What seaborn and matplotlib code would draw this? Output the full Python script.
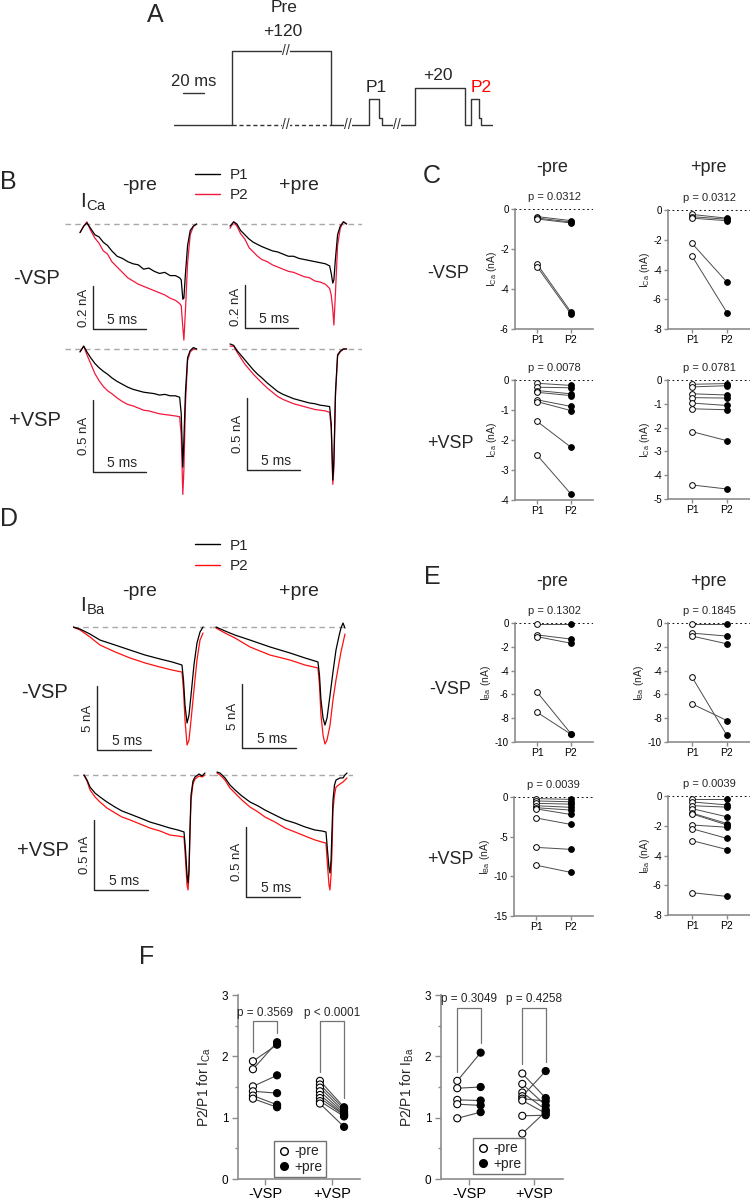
import numpy as np
import pandas as pd
import matplotlib
matplotlib.use('Agg')
import matplotlib.pyplot as plt
from matplotlib.lines import Line2D
import seaborn as sns

##### Voltage protocol (schematic, ms / mV)
proto_edges = [0, 55, 150, 186, 195, 198, 230, 277, 283, 291, 293, 304]
proto_level = [-80, 120, -80, -10, -60, -80, 20, -80, -10, -60, -80]

##### Panel B: ICa traces (ms, nA)
t_ca = [0, 0.35, 0.65, 1.0, 1.4, 1.8, 2.2, 2.6, 3.0, 3.5, 4.0, 4.5, 5.0, 5.5, 6.0,
        6.5, 7.0, 7.5, 8.0, 8.5, 9.0, 9.4, 9.55, 9.7, 9.8, 9.95, 10.15, 10.4, 10.7, 11.0]
tr_ca_ctrl_nopre_p1 = [-0.04, -0.01, 0.005, -0.02, -0.05, -0.06, -0.085, -0.10, -0.125, -0.15,
                       -0.16, -0.175, -0.185, -0.19, -0.21, -0.205, -0.22, -0.23, -0.225, -0.24,
                       -0.24, -0.25, -0.26, -0.35, -0.345, -0.23, -0.10, -0.03, -0.01, 0.0]
tr_ca_ctrl_nopre_p2 = [-0.04, -0.01, 0.01, -0.03, -0.065, -0.09, -0.125, -0.14, -0.175, -0.2,
                       -0.225, -0.25, -0.265, -0.28, -0.29, -0.3, -0.31, -0.32, -0.33, -0.345,
                       -0.355, -0.37, -0.38, -0.48, -0.54, -0.40, -0.18, -0.05, -0.01, 0.0]
tr_ca_ctrl_pre_p1 = [-0.01, 0.01, 0.0, -0.03, -0.05, -0.07, -0.085, -0.095, -0.105, -0.115,
                     -0.125, -0.13, -0.14, -0.15, -0.15, -0.16, -0.165, -0.17, -0.175, -0.18,
                     -0.185, -0.195, -0.23, -0.275, -0.26, -0.16, -0.05, -0.01, 0.01, 0.0]
tr_ca_ctrl_pre_p2 = [-0.02, 0.01, -0.01, -0.045, -0.07, -0.11, -0.13, -0.15, -0.165, -0.175,
                     -0.19, -0.2, -0.21, -0.22, -0.225, -0.235, -0.245, -0.25, -0.265, -0.27,
                     -0.28, -0.30, -0.33, -0.40, -0.47, -0.32, -0.10, -0.02, 0.01, 0.0]
tr_ca_vsp_nopre_p1 = [-0.02, 0.02, -0.02, -0.06, -0.10, -0.13, -0.155, -0.175, -0.2, -0.225,
                      -0.245, -0.265, -0.28, -0.29, -0.30, -0.305, -0.31, -0.32, -0.315, -0.325,
                      -0.325, -0.335, -0.45, -0.82, -0.63, -0.30, -0.06, -0.01, 0.01, 0.0]
tr_ca_vsp_nopre_p2 = [-0.02, 0.02, -0.04, -0.10, -0.17, -0.22, -0.26, -0.29, -0.31, -0.34,
                      -0.365, -0.385, -0.395, -0.41, -0.425, -0.43, -0.44, -0.45, -0.455, -0.46,
                      -0.465, -0.47, -0.60, -1.01, -0.84, -0.38, -0.08, -0.02, 0.0, 0.0]
tr_ca_vsp_pre_p1 = [0.035, 0.025, -0.01, -0.04, -0.075, -0.11, -0.145, -0.175, -0.2, -0.235,
                    -0.265, -0.295, -0.315, -0.33, -0.345, -0.355, -0.365, -0.375, -0.38, -0.39,
                    -0.395, -0.40, -0.52, -0.91, -0.77, -0.30, -0.04, -0.015, 0.0, 0.0]
tr_ca_vsp_pre_p2 = [0.02, 0.02, -0.02, -0.06, -0.105, -0.14, -0.175, -0.205, -0.235, -0.27,
                    -0.30, -0.33, -0.35, -0.365, -0.38, -0.39, -0.40, -0.41, -0.42, -0.425,
                    -0.43, -0.44, -0.55, -0.94, -0.83, -0.33, -0.05, -0.02, 0.0, 0.0]

##### Panel D: IBa traces (ms, nA)
t_ba_ctrl_nopre = [0, 0.65, 1.57, 2.5, 3.9, 5.28, 6.67, 8.06, 9.17, 10.09, 10.23, 10.37,
                   10.56, 10.74, 10.93, 11.2, 11.48, 11.76, 12.04]
tr_ba_ctrl_nopre_p1 = [0, -0.16, -0.55, -1.02, -1.41, -1.8, -2.19, -2.5, -2.73, -2.97, -4.14,
                       -6.1, -7.5, -6.88, -5.31, -2.97, -1.25, -0.39, 0]
tr_ba_ctrl_nopre_p2 = [0, -0.23, -0.78, -1.41, -1.95, -2.42, -2.81, -3.13, -3.36, -3.52, -4.92,
                       -7.27, -9.22, -8.83, -7.27, -4.92, -2.58, -1.02, -0.47]
t_ba_ctrl_pre = [0, 0.83, 1.76, 3.15, 5.0, 6.85, 8.24, 9.44, 9.58, 9.72, 9.91, 10.09, 10.28,
                 10.56, 10.83, 11.11, 11.39, 11.57, 11.76, 11.94]
tr_ba_ctrl_pre_p1 = [0, -0.31, -0.63, -1.02, -1.56, -2.03, -2.42, -2.73, -3.75, -5.7, -7.11,
                     -7.66, -7.11, -5.31, -3.52, -1.8, -0.7, -0.08, 0.31, -0.08]
tr_ba_ctrl_pre_p2 = [-0.08, -0.47, -0.86, -1.56, -2.19, -2.58, -2.97, -3.2, -4.53, -6.88, -8.44,
                     -9.14, -8.83, -7.66, -5.70, -4.14, -2.81, -1.95, -1.25, -0.55]
t_ba_vsp_nopre = [0, 0.28, 0.56, 1.02, 1.48, 2.13, 2.87, 3.52, 4.26, 5.19, 6.11, 7.04, 7.96,
                  8.7, 9.26, 9.4, 9.54, 9.63, 9.72, 9.81, 9.91, 10.09, 10.28, 10.65, 10.93, 11.2]
tr_ba_vsp_nopre_p1 = [0, -0.036, -0.086, -0.129, -0.157, -0.193, -0.229, -0.257, -0.279, -0.307,
                      -0.336, -0.357, -0.379, -0.393, -0.407, -0.536, -0.714, -0.771, -0.679,
                      -0.393, -0.143, -0.043, -0.014, 0.007, -0.007, 0.014]
tr_ba_vsp_nopre_p2 = [0, -0.043, -0.107, -0.157, -0.193, -0.236, -0.271, -0.3, -0.321, -0.35,
                      -0.379, -0.4, -0.429, -0.436, -0.443, -0.607, -0.786, -0.821, -0.714,
                      -0.429, -0.179, -0.064, -0.029, -0.007, -0.014, 0]
t_ba_vsp_pre = [0, 0.28, 0.74, 1.2, 1.67, 2.31, 3.06, 3.8, 4.44, 5.37, 6.3, 7.22, 8.15, 9.07,
                9.72, 10.09, 10.23, 10.37, 10.46, 10.56, 10.65, 10.74, 10.88, 11.02, 11.39,
                11.67, 11.85, 12.04]
tr_ba_vsp_pre_p1 = [0.021, 0.014, -0.021, -0.071, -0.107, -0.15, -0.193, -0.221, -0.25, -0.286,
                    -0.321, -0.343, -0.371, -0.393, -0.4, -0.407, -0.536, -0.664, -0.7, -0.607,
                    -0.393, -0.179, -0.071, -0.036, -0.021, -0.021, 0, 0.014]
tr_ba_vsp_pre_p2 = [0.014, 0, -0.036, -0.093, -0.129, -0.179, -0.229, -0.264, -0.3, -0.336,
                    -0.379, -0.407, -0.436, -0.464, -0.479, -0.486, -0.643, -0.786, -0.821,
                    -0.714, -0.536, -0.25, -0.143, -0.086, -0.064, -0.05, -0.036, -0.021]

##### Panels C / E: P1 and P2 amplitudes (nA)
amp_ca_ctrl_nopre_p1 = [-0.38, -0.45, -0.50, -2.75, -2.88]
amp_ca_ctrl_nopre_p2 = [-0.58, -0.65, -0.70, -5.15, -5.25]
amp_ca_ctrl_pre_p1 = [-0.30, -0.45, -0.55, -2.25, -3.10]
amp_ca_ctrl_pre_p2 = [-0.55, -0.62, -0.72, -4.85, -6.90]
amp_ca_vsp_nopre_p1 = [-0.11, -0.24, -0.35, -0.41, -0.66, -0.72, -1.38, -2.50]
amp_ca_vsp_nopre_p2 = [-0.18, -0.26, -0.46, -0.52, -0.88, -1.02, -2.24, -3.80]
amp_ca_vsp_pre_p1 = [-0.18, -0.29, -0.58, -0.74, -0.97, -1.21, -2.17, -4.41]
amp_ca_vsp_pre_p2 = [-0.15, -0.24, -0.63, -0.76, -1.07, -1.25, -2.55, -4.58]
amp_ba_ctrl_nopre_p1 = [-0.05, -1.00, -1.15, -5.80, -7.50]
amp_ba_ctrl_nopre_p2 = [-0.05, -1.35, -1.70, -9.30, -9.35]
amp_ba_ctrl_pre_p1 = [-0.05, -0.85, -1.10, -4.55, -6.80]
amp_ba_ctrl_pre_p2 = [-0.05, -1.10, -1.75, -9.45, -8.20]
amp_ba_vsp_nopre_p1 = [-0.20, -0.50, -0.80, -1.10, -1.35, -1.50, -2.65, -6.35, -8.60]
amp_ba_vsp_nopre_p2 = [-0.30, -0.60, -0.90, -1.30, -1.65, -2.20, -3.45, -6.60, -9.50]
amp_ba_vsp_pre_p1 = [-0.20, -0.40, -0.65, -0.85, -1.15, -1.20, -1.95, -2.20, -3.00, -6.50]
amp_ba_vsp_pre_p2 = [-0.20, -0.60, -0.75, -1.40, -1.85, -1.95, -2.10, -2.85, -3.60, -6.75]
p_ca_amp = ['p = 0.0312', 'p = 0.0312', 'p = 0.0078', 'p = 0.0781']
p_ba_amp = ['p = 0.1302', 'p = 0.1845', 'p = 0.0039', 'p = 0.0039']

##### Panel F: P2/P1 ratios
ratio_ca_ctrl_nopre = [1.92, 1.79, 1.51, 1.43, 1.36, 1.31]
ratio_ca_ctrl_pre = [2.19, 2.23, 1.69, 1.40, 1.21, 1.17]
ratio_ca_vsp_nopre = [1.60, 1.54, 1.49, 1.43, 1.37, 1.32, 1.27, 1.23]
ratio_ca_vsp_pre = [1.17, 1.14, 1.10, 1.07, 1.05, 1.04, 1.02, 0.85]
ratio_ba_ctrl_nopre = [1.60, 1.48, 1.29, 1.22, 0.99]
ratio_ba_ctrl_pre = [2.06, 1.50, 1.28, 1.20, 1.09]
ratio_ba_vsp_nopre = [1.72, 1.55, 1.41, 1.35, 1.31, 1.28, 1.03, 0.74]
ratio_ba_vsp_pre = [1.32, 1.20, 1.13, 1.76, 1.27, 1.07, 1.04, 1.10]
p_ratio_ca = ['p = 0.3569', 'p < 0.0001']
p_ratio_ba = ['p = 0.3049', 'p = 0.4258']
vsp_labels = ['-VSP', '+VSP']

##### style
sns.set_theme(style='ticks')
plt.rcParams['font.family'] = ['Liberation Sans', 'DejaVu Sans']
plt.rcParams['mathtext.fontset'] = 'custom'
plt.rcParams['mathtext.rm'] = 'Liberation Sans'
plt.rcParams['axes.unicode_minus'] = False
plt.rcParams['axes.facecolor'] = 'none'

RED_B = '#f2183c'
RED_D = '#ff1010'
GREY = '#8c8c8c'

W, H = 750, 1200
fig = plt.figure(figsize=(W / 100, H / 100), dpi=100)

# overlay for labels, in pixel units
ov = fig.add_axes([0, 0, 1, 1])
ov.set_xlim(0, W)
ov.set_ylim(H, 0)
ov.axis('off')


def label(x, y, s, size, **kw):
    ov.text(x, y, s, fontsize=size, ha=kw.pop('ha', 'center'), va=kw.pop('va', 'center'), **kw)


def px_axes(x0, y0, x1, y1):
    return fig.add_axes([x0 / W, 1 - y1 / H, (x1 - x0) / W, (y1 - y0) / H])


##### A: protocol
axA = px_axes(174, 40, 493, 130)
axA.set_xlim(0, 304)
axA.set_ylim(-93.5, 149.7)
axA.axis('off')
sns.lineplot(x=proto_edges, y=proto_level + [proto_level[-1]], ax=axA, color='0.2', lw=1,
             drawstyle='steps-post', estimator=None, sort=False)
sns.lineplot(x=proto_edges[1:3], y=[proto_level[0]] * 2, ax=axA, color='0.2', lw=1,
             ls=(0, (3, 2)), estimator=None, sort=False)
for tb, vb in [(106.7, 120), (106.7, -80), (165.7, -80), (212.4, -80)]:
    axA.text(tb, vb, '//', fontsize=10, ha='center', va='center', color='0.2',
             bbox=dict(facecolor='white', edgecolor='none', pad=0.2))
axA.plot([8.6, 28.6], [6.5, 6.5], color='0.2', lw=1)
label(194, 82, '20 ms', 12)
label(155, 15, 'A', 18)
label(284, 8, 'Pre', 12.5)
label(283, 31, '+120', 12.5)
label(376, 88, 'P1', 12.5)
label(438, 76, '+20', 12.5)
label(481, 88, 'P2', 12.5, color='red')


##### trace helpers
def trace_axes(x0, x1, y0, y1, x_start, y_base, px_ms, px_unit):
    ax = px_axes(x0, y0, x1, y1)
    ax.set_xlim((x0 - x_start) / px_ms, (x1 - x_start) / px_ms)
    ax.set_ylim((y_base - y1) / px_unit, (y_base - y0) / px_unit)
    ax.axis('off')
    ax.axhline(0, color='#a8a8a8', lw=1, ls=(0, (4, 3)))
    return ax


def draw_pair(ax, t, p1, p2, red):
    sns.lineplot(x=t, y=p2, ax=ax, color=red, lw=0.9, sort=False, estimator=None)
    sns.lineplot(x=t, y=p1, ax=ax, color='black', lw=0.9, sort=False, estimator=None)


def scalebar(ax, t0, v0, dv, ylab):
    ax.plot([t0, t0, t0 + 5], [v0 + dv, v0, v0], color='0.15', lw=1, clip_on=False)
    ax.annotate('5 ms', (t0 + 2.5, v0), xytext=(2, 1.5), textcoords='offset points',
                ha='center', va='bottom', fontsize=10)
    ax.annotate(ylab, (t0, v0 + dv / 2), xytext=(-2, 0), textcoords='offset points',
                rotation=90, ha='right', va='center', fontsize=9.5)


##### B
ax = trace_axes(65, 212, 210, 345, 80, 224, 10.6, 215)
draw_pair(ax, t_ca, tr_ca_ctrl_nopre_p1, tr_ca_ctrl_nopre_p2, RED_B)
scalebar(ax, 1.23, -0.488, 0.2, '0.2 nA')
ax = trace_axes(212, 362, 210, 345, 230, 224, 10.6, 215)
draw_pair(ax, t_ca, tr_ca_ctrl_pre_p1, tr_ca_ctrl_pre_p2, RED_B)
scalebar(ax, 1.42, -0.484, 0.2, '0.2 nA')
ax = trace_axes(65, 212, 338, 500, 80, 349, 10.6, 144)
draw_pair(ax, t_ca, tr_ca_vsp_nopre_p1, tr_ca_vsp_nopre_p2, RED_B)
scalebar(ax, 1.23, -0.854, 0.5, '0.5 nA')
ax = trace_axes(212, 362, 338, 500, 230, 349, 10.6, 144)
draw_pair(ax, t_ca, tr_ca_vsp_pre_p1, tr_ca_vsp_pre_p2, RED_B)
scalebar(ax, 1.6, -0.84, 0.5, '0.5 nA')

label(8, 182, 'B', 18)
label(80, 202, r'I$_\mathregular{Ca}$', 15, ha='left')
label(140, 186, '-pre', 14)
label(299, 186, '+pre', 14)
label(37, 279, '-VSP', 14.5)
label(35, 420, '+VSP', 14.5)
fig.legend([Line2D([], [], color='black', lw=1), Line2D([], [], color=RED_B, lw=1)], ['P1', 'P2'],
           loc='center left', bbox_to_anchor=(195 / W, 1 - 185 / H), frameon=False, fontsize=11,
           handlelength=1.65, handletextpad=0.6, labelspacing=0.4, borderpad=0, borderaxespad=0)

##### D
ax = trace_axes(73, 212, 612, 760, 73, 627, 10.8, 12.8)
draw_pair(ax, t_ba_ctrl_nopre, tr_ba_ctrl_nopre_p1, tr_ba_ctrl_nopre_p2, RED_D)
scalebar(ax, 2.22, -9.61, 5, '5 nA')
ax = trace_axes(212, 347, 612, 760, 216, 627, 10.8, 12.8)
draw_pair(ax, t_ba_ctrl_pre, tr_ba_ctrl_pre_p1, tr_ba_ctrl_pre_p2, RED_D)
scalebar(ax, 2.41, -9.45, 5, '5 nA')
ax = trace_axes(73, 212, 762, 905, 84, 775, 10.8, 140)
draw_pair(ax, t_ba_vsp_nopre, tr_ba_vsp_nopre_p1, tr_ba_vsp_nopre_p2, RED_D)
scalebar(ax, 0.93, -0.82, 0.5, '0.5 nA')
ax = trace_axes(212, 353, 762, 905, 217, 775, 10.8, 140)
draw_pair(ax, t_ba_vsp_pre, tr_ba_vsp_pre_p1, tr_ba_vsp_pre_p2, RED_D)
scalebar(ax, 2.69, -0.87, 0.5, '0.5 nA')

label(9, 519, 'D', 18)
label(80, 606, r'I$_\mathregular{Ba}$', 15, ha='left')
label(140, 592, '-pre', 14)
label(299, 592, '+pre', 14)
label(45, 692, '-VSP', 14.5)
label(43, 850, '+VSP', 14.5)
fig.legend([Line2D([], [], color='black', lw=1), Line2D([], [], color=RED_D, lw=1)], ['P1', 'P2'],
           loc='center left', bbox_to_anchor=(195 / W, 1 - 556 / H), frameon=False, fontsize=11,
           handlelength=1.65, handletextpad=0.6, labelspacing=0.45, borderpad=0, borderaxespad=0)


##### C / E helpers
def style_axes(ax, labelsize):
    sns.despine(ax=ax)
    for s in ['left', 'bottom']:
        ax.spines[s].set_color(GREY)
        ax.spines[s].set_linewidth(1.2)
    ax.tick_params(which='both', color=GREY, width=1, labelcolor='black', labelsize=labelsize)


def paired_axes(box, xlim, p1, p2, ylow, ystep, ylabel, ptext):
    ax = px_axes(*box)
    n = len(p1)
    df = pd.DataFrame({'cell': list(range(n)) * 2, 'pulse': [0] * n + [1] * n,
                       'amp': list(p1) + list(p2)})
    sns.lineplot(data=df, x='pulse', y='amp', units='cell', estimator=None, color='0.3',
                 lw=0.7, ax=ax, legend=False)
    sns.scatterplot(data=df[df.pulse == 0], x='pulse', y='amp', color='white', edgecolor='black',
                    s=17, linewidth=0.7, ax=ax, zorder=3, clip_on=False, legend=False)
    sns.scatterplot(data=df[df.pulse == 1], x='pulse', y='amp', color='black', edgecolor='black',
                    s=17, linewidth=0.7, ax=ax, zorder=3, clip_on=False, legend=False)
    ax.axhline(0, color='black', lw=1.3, ls=(0, (1, 1.5)), zorder=1)
    ax.set_xlim(*xlim)
    ax.set_ylim(ylow, 0)
    ax.set_yticks(np.arange(ylow, 0.01, ystep))
    ax.set_xticks([0, 1], ['P1', 'P2'])
    ax.set_xlabel('')
    ax.set_ylabel(ylabel, fontsize=7.5, labelpad=1)
    style_axes(ax, 7)
    ax.tick_params(length=3, pad=1.5)
    ax.tick_params(axis='x', labelsize=7.5)
    ax.annotate(ptext, (0.5, 1), xycoords=('data', 'axes fraction'), xytext=(0, 8.5),
                textcoords='offset points', ha='center', va='center', fontsize=8)
    return ax


XL_L = (-0.65, 1.65)
XL_R = (-0.69, 1.66)
lab_ca = r'I$_\mathregular{Ca}$ (nA)'
lab_ba = r'I$_\mathregular{Ba}$ (nA)'

paired_axes((515, 209, 593, 329), XL_L, amp_ca_ctrl_nopre_p1, amp_ca_ctrl_nopre_p2, -6, 2, lab_ca, p_ca_amp[0])
paired_axes((668, 210, 750, 329), XL_R, amp_ca_ctrl_pre_p1, amp_ca_ctrl_pre_p2, -8, 2, lab_ca, p_ca_amp[1])
paired_axes((515, 380, 593, 500), XL_L, amp_ca_vsp_nopre_p1, amp_ca_vsp_nopre_p2, -4, 1, lab_ca, p_ca_amp[2])
paired_axes((668, 380, 750, 499), XL_R, amp_ca_vsp_pre_p1, amp_ca_vsp_pre_p2, -5, 1, lab_ca, p_ca_amp[3])

paired_axes((515, 623, 593, 742), XL_L, amp_ba_ctrl_nopre_p1, amp_ba_ctrl_nopre_p2, -10, 2, lab_ba, p_ba_amp[0])
paired_axes((668, 623, 750, 742), XL_R, amp_ba_ctrl_pre_p1, amp_ba_ctrl_pre_p2, -10, 2, lab_ba, p_ba_amp[1])
paired_axes((514, 797, 593, 916), XL_L, amp_ba_vsp_nopre_p1, amp_ba_vsp_nopre_p2, -15, 5, lab_ba, p_ba_amp[2])
paired_axes((668, 796, 750, 915), XL_R, amp_ba_vsp_pre_p1, amp_ba_vsp_pre_p2, -8, 2, lab_ba, p_ba_amp[3])

label(432, 176, 'C', 18)
label(552, 168, '-pre', 13)
label(708, 168, '+pre', 13)
label(448, 274, '-VSP', 13)
label(450, 444, '+VSP', 13)
label(432, 577, 'E', 18)
label(552, 581, '-pre', 13)
label(708, 581, '+pre', 13)
label(450, 690, '-VSP', 13)
label(450, 860, '+VSP', 13)


##### F
def ratio_axes(box, xlim, opens, filleds, ylabel, ptexts, top, leg_xy):
    ax = px_axes(*box)
    rows = []
    for g, (o, f) in enumerate(zip(opens, filleds)):
        for i, (a, b) in enumerate(zip(o, f)):
            rows.append({'cell': f'{g}-{i}', 'x': g - 0.18, 'ratio': a, 'pre': '-pre'})
            rows.append({'cell': f'{g}-{i}', 'x': g + 0.18, 'ratio': b, 'pre': '+pre'})
    df = pd.DataFrame(rows)
    sns.lineplot(data=df, x='x', y='ratio', units='cell', estimator=None, color='0.3', lw=0.8,
                 ax=ax, legend=False, sort=False)
    sns.scatterplot(data=df, x='x', y='ratio', hue='pre', palette={'-pre': 'white', '+pre': 'black'},
                    edgecolor='black', linewidth=0.8, s=26, ax=ax, zorder=3, legend=False)
    for g, (o, f) in enumerate(zip(opens, filleds)):
        xl, xr = g - 0.18, g + 0.18
        ax.plot([xl, xl, xr, xr], [max(o) + 0.15, top, top, max(f) + 0.15], color='0.45', lw=0.9)
        ax.annotate(ptexts[g], (g, top), xytext=(0, 2), textcoords='offset points',
                    ha='center', va='bottom', fontsize=8.5)
    ax.set_xlim(*xlim)
    ax.set_ylim(0, 3)
    ax.set_yticks([0, 1, 2, 3])
    ax.set_yticks([0.5, 1.5, 2.5], minor=True)
    ax.set_xticks([0, 1], vsp_labels)
    ax.set_xlabel('')
    ax.set_ylabel(ylabel, fontsize=10, labelpad=6)
    style_axes(ax, 8.5)
    ax.tick_params(axis='both', which='major', length=4, pad=3)
    ax.tick_params(axis='y', which='minor', length=2.5)
    ax.tick_params(axis='x', labelsize=10.5, pad=2)
    handles = [Line2D([], [], ls='', marker='o', mfc='white', mec='black', ms=5.5),
               Line2D([], [], ls='', marker='o', mfc='black', mec='black', ms=5.5)]
    leg = ax.legend(handles, ['-pre', '+pre'], loc='upper left', bbox_to_anchor=leg_xy,
                    bbox_transform=fig.transFigure, fontsize=10, frameon=True, fancybox=False,
                    edgecolor='0.45', framealpha=1, borderpad=0.25, handletextpad=0.2,
                    labelspacing=0.1, handlelength=1.0, borderaxespad=0)
    leg.get_frame().set_linewidth(1)
    return ax


ratio_axes((238, 995, 360, 1179), (-0.403, 1.418), [ratio_ca_ctrl_nopre, ratio_ca_vsp_nopre],
           [ratio_ca_ctrl_pre, ratio_ca_vsp_pre], r'P2/P1 for I$_\mathregular{Ca}$', p_ratio_ca,
           2.57, (274 / W, 1 - 1141 / H))
ratio_axes((441, 995, 563, 1179), (-0.43, 1.446), [ratio_ba_ctrl_nopre, ratio_ba_vsp_nopre],
           [ratio_ba_ctrl_pre, ratio_ba_vsp_pre], r'P2/P1 for I$_\mathregular{Ba}$', p_ratio_ba,
           2.79, (473 / W, 1 - 1138 / H))
label(147, 957, 'F', 18)

fig.savefig('out.png', dpi=100)
plt.close(fig)
